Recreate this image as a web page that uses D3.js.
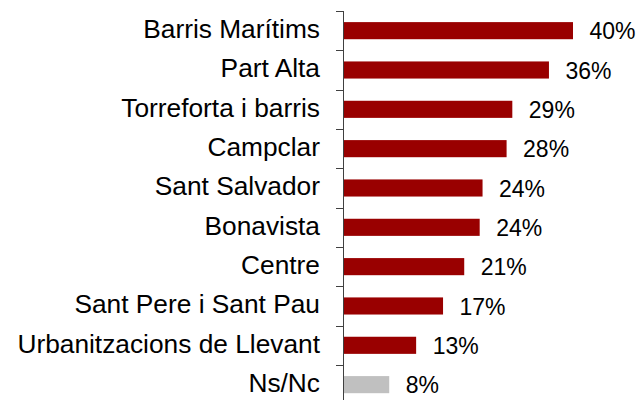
<html>
	<head>
		<meta charset="utf-8">
		<title>Barris</title>
		<script src="https://d3js.org/d3.v7.min.js"></script>
		<style>
			body { margin: 0; background: #fff; }
		</style>
	</head>
	<body>
		<script>
			// dades
			var categories = ["Barris Marítims", "Part Alta", "Torreforta i barris", "Campclar", "Sant Salvador",
				"Bonavista", "Centre", "Sant Pere i Sant Pau", "Urbanitzacions de Llevant", "Ns/Nc"];
			var values = [40, 35.8, 29.4, 28.4, 24.2, 23.7, 21.0, 17.3, 12.6, 7.9];
			var barColors = ["#990000", "#990000", "#990000", "#990000", "#990000",
				"#990000", "#990000", "#990000", "#990000", "#c0c0c0"];

			var width = 639, height = 400;
			var axisX = 344;
			var top0 = 11, step = 39.33;

			var svg = d3.select("body").append("svg")
				.attr("width", width)
				.attr("height", height);

			var x = d3.scaleLinear()
				.domain([0, 40])
				.range([axisX, 573]);

			var y = d3.scaleBand()
				.domain(categories)
				.range([top0, top0 + step * categories.length])
				.paddingInner(0.565)
				.paddingOuter(0.2825);

			var data = categories.map((c, i) => ({name: c, value: values[i], color: barColors[i]}));
			var pad = (y.step() - y.bandwidth()) / 2;

			// barres
			svg.append("g")
				.selectAll("rect")
				.data(data)
				.join("rect")
					.attr("x", x(0))
					.attr("y", d => y(d.name))
					.attr("width", d => x(d.value) - x(0))
					.attr("height", y.bandwidth())
					.attr("fill", d => d.color);

			// eix
			var axis = svg.append("g").attr("stroke", "#404040").attr("stroke-width", 1);
			axis.append("line")
				.attr("x1", axisX - 0.5).attr("x2", axisX - 0.5)
				.attr("y1", top0).attr("y2", height);
			axis.selectAll("line.tick")
				.data(categories)
				.join("line")
					.attr("class", "tick")
					.attr("x1", axisX - 8).attr("x2", axisX)
					.attr("y1", d => Math.round(y(d) - pad) + 0.5)
					.attr("y2", d => Math.round(y(d) - pad) + 0.5);

			// etiquetes
			svg.append("g")
				.style("font-family", "'Liberation Sans', Arial, sans-serif")
				.style("font-size", "26.3px")
				.attr("fill", "#000")
				.attr("text-anchor", "end")
				.selectAll("text")
				.data(data)
				.join("text")
					.attr("x", 320)
					.attr("y", d => y(d.name) + y.bandwidth() / 2 + 7.4)
					.text(d => d.name);

			// valors
			svg.append("g")
				.style("font-family", "'Liberation Sans', Arial, sans-serif")
				.style("font-size", "23px")
				.attr("fill", "#000")
				.selectAll("text")
				.data(data)
				.join("text")
					.attr("x", d => x(d.value) + 16.5)
					.attr("y", d => y(d.name) + y.bandwidth() / 2 + 8.6)
					.text(d => Math.round(d.value) + "%");
		</script>
	</body>
</html>
